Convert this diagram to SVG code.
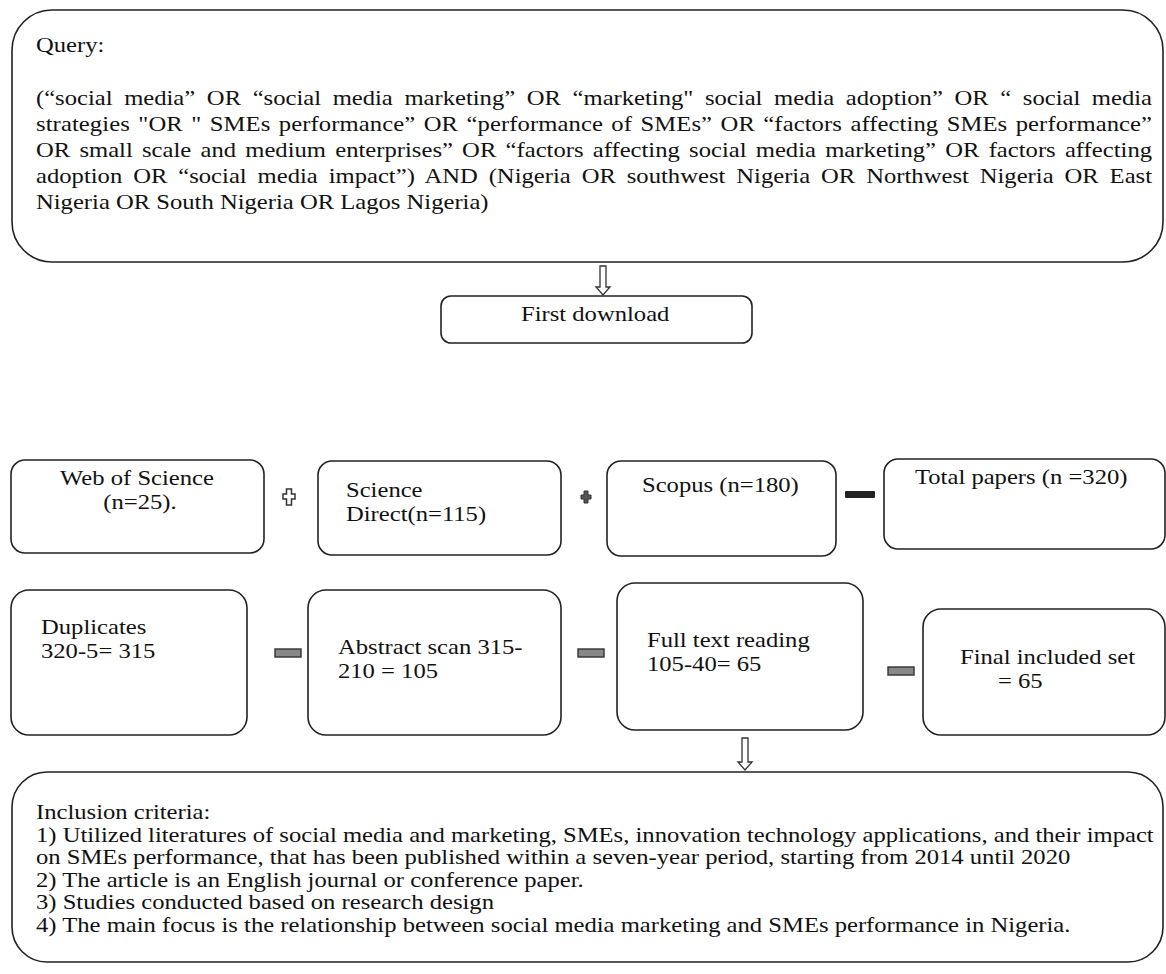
<svg xmlns="http://www.w3.org/2000/svg" width="1166" height="974" viewBox="0 0 1166 974">
<style>
.box{fill:#fff;stroke:#222;stroke-width:1.6}
.t{font-family:"Liberation Serif","Times New Roman",serif;font-size:21.5px;fill:#111}
.arr{fill:#fff;stroke:#333;stroke-width:1.3}
.eq{fill:#888;stroke:#333;stroke-width:1.4}
</style>
<rect width="1166" height="974" fill="#fff"/>
<g id="query">
<rect class="box" x="12" y="10" width="1151" height="252" rx="40"/>
<text class="t" transform="translate(36,52) scale(1.145,1)">Query:</text>
<text class="t" transform="translate(36,105) scale(1.145,1)" word-spacing="4.76" textLength="974.7" lengthAdjust="spacing">(“social media” OR “social media marketing” OR “marketing" social media adoption” OR “ social media</text>
<text class="t" transform="translate(36,131) scale(1.145,1)" word-spacing="1.91" textLength="974.7" lengthAdjust="spacing">strategies "OR " SMEs performance” OR “performance of SMEs” OR “factors affecting SMEs performance”</text>
<text class="t" transform="translate(36,157) scale(1.145,1)" word-spacing="2.66" textLength="974.7" lengthAdjust="spacing">OR small scale and medium enterprises” OR “factors affecting social media marketing” OR factors affecting</text>
<text class="t" transform="translate(36,183) scale(1.145,1)" word-spacing="4.1" textLength="974.7" lengthAdjust="spacing">adoption OR “social media impact”) AND (Nigeria OR southwest Nigeria OR Northwest Nigeria OR East</text>
<text class="t" transform="translate(36,209) scale(1.145,1)">Nigeria OR South Nigeria OR Lagos Nigeria)</text>
</g>
<g id="first-download">
<rect class="box" x="441" y="296" width="311" height="47" rx="10"/>
<text class="t" transform="translate(521,321) scale(1.145,1)">First download</text>
</g>
<g id="wos">
<rect class="box" x="11" y="460" width="253" height="93" rx="14"/>
<text class="t" text-anchor="middle" transform="translate(137,485) scale(1.145,1)">Web of Science</text>
<text class="t" text-anchor="middle" transform="translate(140,509) scale(1.145,1)">(n=25).</text>
</g>
<g id="sciencedirect">
<rect class="box" x="318" y="461" width="243" height="94" rx="14"/>
<text class="t" transform="translate(346,497) scale(1.145,1)">Science</text>
<text class="t" transform="translate(346,521) scale(1.145,1)">Direct(n=115)</text>
</g>
<g id="scopus">
<rect class="box" x="607" y="461" width="229" height="95" rx="14"/>
<text class="t" transform="translate(642,492) scale(1.145,1)">Scopus (n=180)</text>
</g>
<g id="total">
<rect class="box" x="884" y="459" width="281" height="90" rx="14"/>
<text class="t" transform="translate(915,484) scale(1.145,1)">Total papers (n =320)</text>
</g>
<g id="duplicates">
<rect class="box" x="11" y="590" width="236" height="145" rx="18"/>
<text class="t" transform="translate(41,634) scale(1.145,1)">Duplicates</text>
<text class="t" transform="translate(41,658) scale(1.145,1)">320-5= 315</text>
</g>
<g id="abstract">
<rect class="box" x="308" y="590" width="253" height="145" rx="18"/>
<text class="t" transform="translate(338,654) scale(1.145,1)">Abstract scan 315-</text>
<text class="t" transform="translate(338,678) scale(1.145,1)">210 = 105</text>
</g>
<g id="fulltext">
<rect class="box" x="617" y="583" width="246" height="147" rx="18"/>
<text class="t" transform="translate(647,647) scale(1.145,1)">Full text reading</text>
<text class="t" transform="translate(647,671) scale(1.145,1)">105-40= 65</text>
</g>
<g id="final">
<rect class="box" x="923" y="609" width="242" height="126" rx="18"/>
<text class="t" transform="translate(960,664) scale(1.145,1)">Final included set</text>
<text class="t" transform="translate(998,688) scale(1.145,1)">= 65</text>
</g>
<g id="inclusion">
<rect class="box" x="12" y="772" width="1151" height="190" rx="35"/>
<text class="t" transform="translate(36,819) scale(1.145,1)">Inclusion criteria:</text>
<text class="t" transform="translate(36,842) scale(1.145,1)">1) Utilized literatures of social media and marketing, SMEs, innovation technology applications, and their impact</text>
<text class="t" transform="translate(36,864) scale(1.145,1)">on SMEs performance, that has been published within a seven-year period, starting from 2014 until 2020</text>
<text class="t" transform="translate(36,887) scale(1.145,1)">2) The article is an English journal or conference paper.</text>
<text class="t" transform="translate(36,909) scale(1.145,1)">3) Studies conducted based on research design</text>
<text class="t" transform="translate(36,932) scale(1.145,1)">4) The main focus is the relationship between social media marketing and SMEs performance in Nigeria.</text>
</g>
<g id="connectors">
<path class="arr" d="M600,266 H606 V287 H610 L603,295 L596,287 H600 Z"/>
<path class="arr" d="M742,738 H748 V762 H752 L745,770 L738,762 H742 Z"/>
<path d="M286.5,489 H291.5 V494 H295 V499 H291.5 V505 H286.5 V499 H283 V494 H286.5 Z" fill="#fff" stroke="#333" stroke-width="1.5"/>
<path d="M584,491 H588 V495 H591 V499 H588 V503 H584 V499 H581 V495 H584 Z" fill="#555" stroke="#333" stroke-width="1"/>
<rect x="845" y="491" width="30" height="7" rx="1" fill="#222"/>
<rect class="eq" x="275" y="649" width="26" height="8"/>
<rect class="eq" x="578" y="649" width="26" height="8"/>
<rect class="eq" x="888" y="667" width="26" height="8"/>
</g>
</svg>
